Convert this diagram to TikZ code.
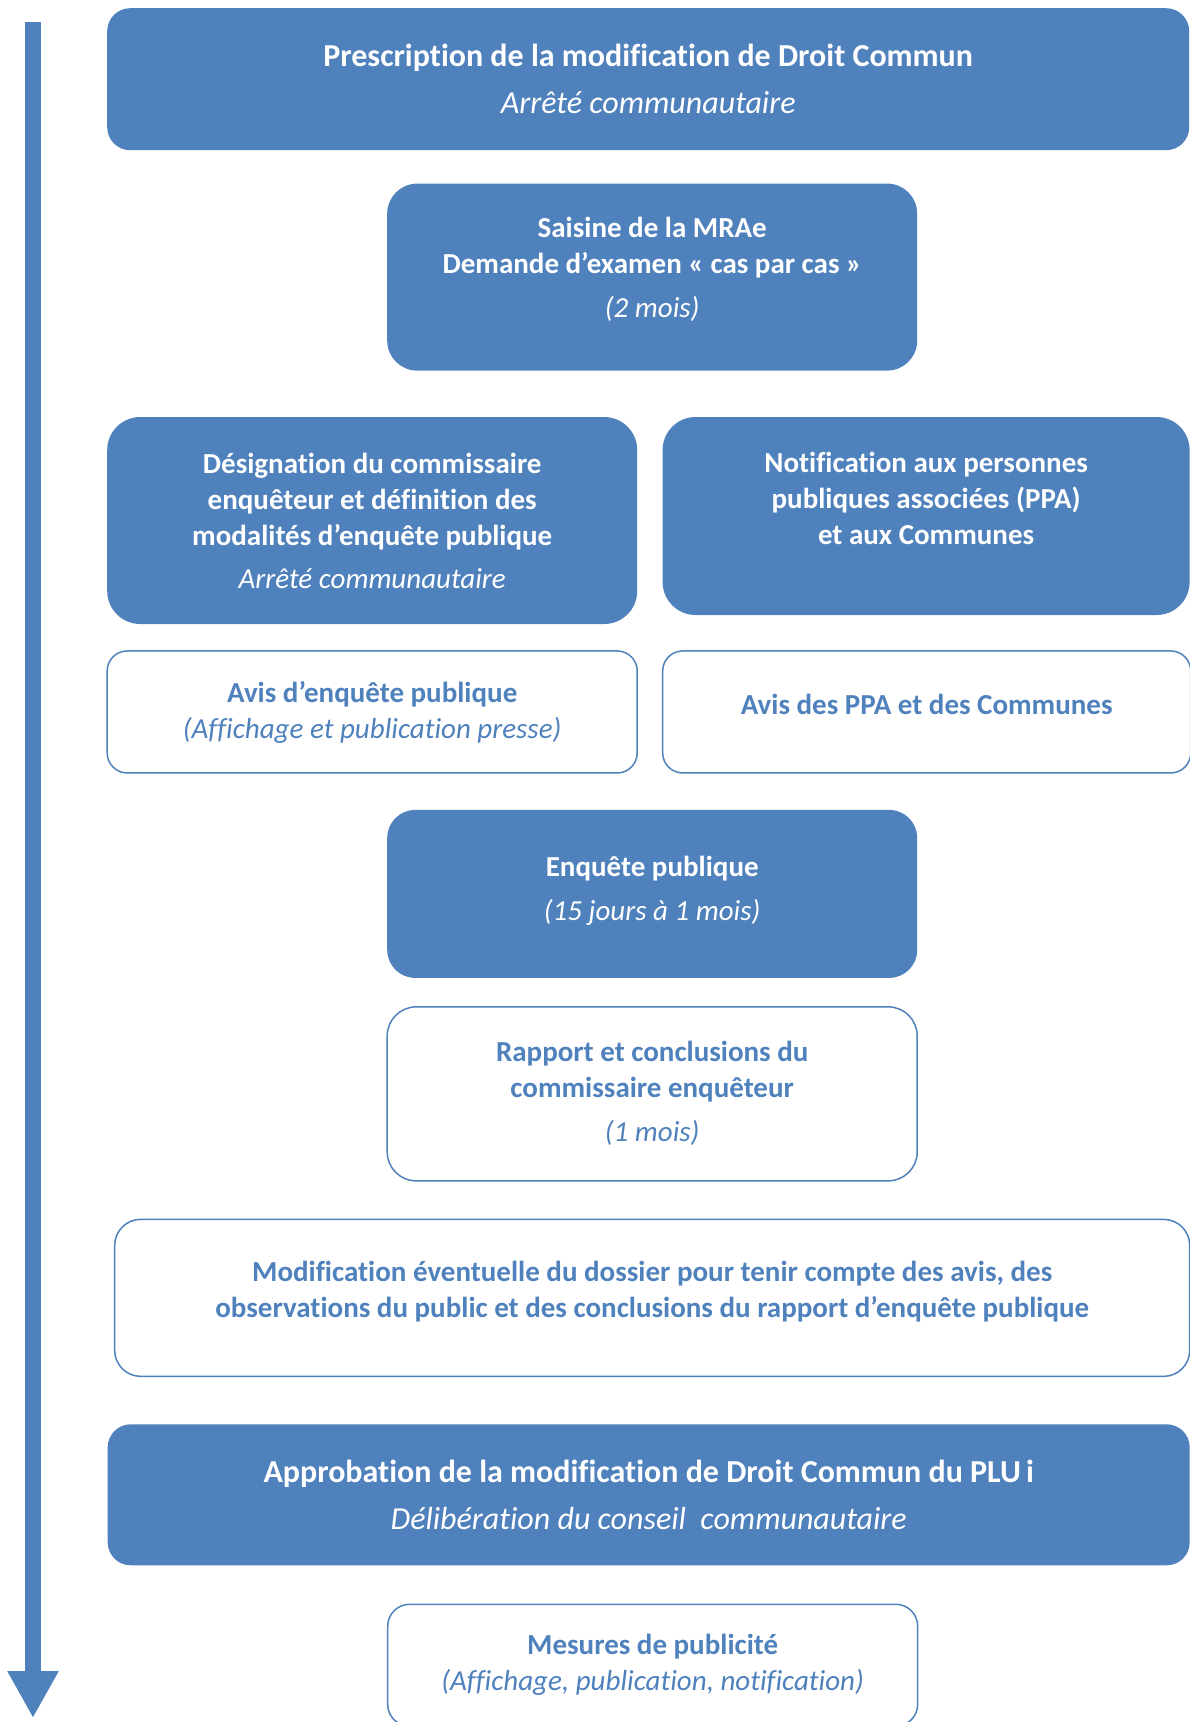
\documentclass[tikz,border=0pt]{standalone}
\usepackage{fontspec}
\setmainfont{Carlito}[Ligatures=NoCommon]
\usepackage{tikz}
\usetikzlibrary{arrows.meta,positioning}
\definecolor{accent}{HTML}{4F81BD}
\newcommand{\soustitre}[1]{{\mdseries\itshape #1}}

\begin{document}
\begin{tikzpicture}[
    font=\fontsize{29}{36}\selectfont\bfseries,
    fullbox/.style={fill=accent, text=white, rounded corners=#1, align=center, inner sep=2pt},
    linebox/.style={draw=accent, line width=1.5pt, fill=white, text=accent, rounded corners=#1, align=center, inner sep=2pt},
    bigtext/.style={font=\fontsize{32}{36}\selectfont\bfseries},
    timeline/.style={draw=accent, line width=16pt, -{Triangle[width=48pt, length=47pt]}}
]
\useasboundingbox (0,0) rectangle (1190pt,-1722pt);

\node[fullbox=23pt, bigtext, minimum width=1082pt, minimum height=142pt, anchor=north west] (presc) at (107pt,-8pt) {Prescription de la modification de Droit Commun\\[11pt] \soustitre{Arrêté communautaire}};
\node[fullbox=30pt, minimum width=530pt, minimum height=187pt, below=33pt of presc, xshift=4pt] (saisine) {Saisine de la MRAe\\ Demande d’examen «~cas par cas~»\\[8pt] \soustitre{(2 mois)}\\[-16pt]\mbox{}};

\node[fullbox=33pt, minimum width=530pt, minimum height=207pt, below=46pt of saisine, xshift=-280pt] (designation) {Désignation du commissaire\\ enquêteur et définition des\\ modalités d’enquête publique\\[7pt] \soustitre{Arrêté communautaire}};
\node[fullbox=33pt, minimum width=527pt, minimum height=198pt, right=25pt of designation.north east, anchor=north west] (notif) {Notification aux personnes\\ publiques associées (PPA)\\ et aux Communes\\ \mbox{}};

\node[linebox=20pt, minimum width=530pt, minimum height=122pt, below=26pt of designation] (avisenquete) {Avis d’enquête publique\\ \soustitre{(Affichage et publication presse)}};
\node[linebox=20pt, minimum width=528pt, minimum height=122pt, right=24pt of avisenquete] (avisppa) {Avis des PPA et des Communes\\[-20pt]\mbox{}};

\node[fullbox=28pt, minimum width=530pt, minimum height=168pt, below=36pt of avisenquete, xshift=280pt] (enquete) {Enquête publique\\[8pt] \soustitre{(15 jours à 1 mois)}\\[-25pt]\mbox{}};
\node[linebox=29pt, minimum width=530pt, minimum height=174pt, below=28pt of enquete] (rapport) {Rapport et conclusions du\\ commissaire enquêteur\\[8pt] \soustitre{(1 mois)}\\[-30pt]\mbox{}};

\node[linebox=26pt, minimum width=1075pt, minimum height=157pt, below=37pt of rapport] (modif) {Modification éventuelle du dossier pour tenir compte des avis, des\\ observations du public et des conclusions du rapport d’enquête publique\\[-18pt]\mbox{}};
\node[fullbox=23pt, bigtext, minimum width=1082pt, minimum height=141pt, below=47pt of modif, xshift=-3.5pt] (approb) {Approbation de la modification de Droit Commun du PLU\,i\\[11pt] \soustitre{Délibération du conseil~ communautaire}};
\node[linebox=22pt, minimum width=530pt, minimum height=122pt, below=38pt of approb, xshift=4pt] (mesures) {Mesures de publicité\\ \soustitre{(Affichage, publication, notification)}};

% fleche du temps
\coordinate (debut) at (33pt,-22pt);
\coordinate (fin) at (33pt,-1718pt);
\draw[timeline] (debut) -- (fin);
\end{tikzpicture}
\end{document}
